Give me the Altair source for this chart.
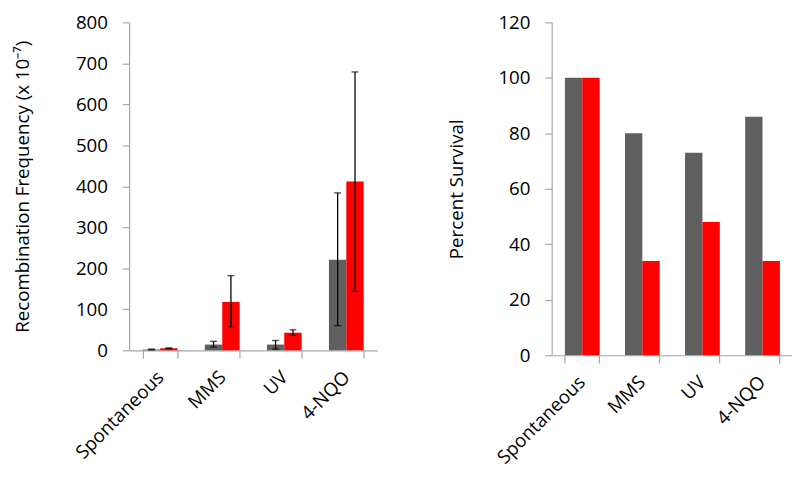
import altair as alt
import pandas as pd

categories = ["Spontaneous", "MMS", "UV", "4-NQO"]
series_names = ["Series 1", "Series 2"]

recomb_s1 = [2, 14, 14, 221]
recomb_s1_lo = [1, 8, 3, 60]
recomb_s1_hi = [3, 22, 24, 384]
recomb_s2 = [5, 118, 43, 412]
recomb_s2_lo = [4, 57, 37, 144]
recomb_s2_hi = [6, 182, 50, 679]

survival_s1 = [100, 80, 73, 86]
survival_s2 = [100, 34, 48, 34]

recomb_ticks = [0, 100, 200, 300, 400, 500, 600, 700, 800]
survival_ticks = [0, 20, 40, 60, 80, 100, 120]

rows = []
for i, c in enumerate(categories):
    rows.append({"cat": c, "series": series_names[0], "value": recomb_s1[i],
                 "lo": recomb_s1_lo[i], "hi": recomb_s1_hi[i]})
    rows.append({"cat": c, "series": series_names[1], "value": recomb_s2[i],
                 "lo": recomb_s2_lo[i], "hi": recomb_s2_hi[i]})
recomb_df = pd.DataFrame(rows)

rows2 = []
for i, c in enumerate(categories):
    rows2.append({"cat": c, "series": series_names[0], "value": survival_s1[i]})
    rows2.append({"cat": c, "series": series_names[1], "value": survival_s2[i]})
surv_df = pd.DataFrame(rows2)

FONT = "Open Sans"
AXIS_GRAY = "#a6a6a6"

def xenc():
    return alt.X("cat:N", sort=categories, title=None,
                 scale=alt.Scale(paddingInner=0.44, paddingOuter=0.22),
                 axis=alt.Axis(tickBand="extent", labelAngle=-45, labelAlign="right",
                               labelBaseline="middle", tickSize=8, labelPadding=16))

xoff = alt.XOffset("series:N", sort=series_names, scale=alt.Scale(paddingInner=0, paddingOuter=0))
color = alt.Color("series:N", sort=series_names,
                  scale=alt.Scale(domain=series_names, range=["#606060", "#ff0000"]),
                  legend=None)

# Left chart
ly = alt.Y("value:Q", title="Recombination Frequency (x 10\u207b\u2077)",
           scale=alt.Scale(domain=[0, 800], nice=False),
           axis=alt.Axis(values=recomb_ticks, titlePadding=44))
left_base = alt.Chart(recomb_df)
left_bars = left_base.mark_bar().encode(x=xenc(), xOffset=xoff, y=ly, color=color)
left_rules = left_base.mark_rule(color="black", strokeWidth=1.3).encode(
    x=xenc(), xOffset=xoff, y=alt.Y("lo:Q"), y2="hi:Q")
left_caps_hi = left_base.mark_tick(color="black", thickness=1.3, size=7, orient="horizontal").encode(
    x=xenc(), xOffset=xoff, y=alt.Y("hi:Q"))
left_caps_lo = left_base.mark_tick(color="black", thickness=1.3, size=7, orient="horizontal").encode(
    x=xenc(), xOffset=xoff, y=alt.Y("lo:Q"))
left = alt.layer(left_bars, left_rules, left_caps_hi, left_caps_lo).properties(width=252, height=333)

# Right chart
ry = alt.Y("value:Q", title="Percent Survival",
           scale=alt.Scale(domain=[0, 120], nice=False),
           axis=alt.Axis(values=survival_ticks, titlePadding=32))
right = alt.Chart(surv_df).mark_bar().encode(
    x=xenc(), xOffset=xoff, y=ry, color=color).properties(width=244, height=338)

chart = alt.hconcat(left, right, spacing=71).properties(
    padding={"left": 5, "top": 2, "right": 0, "bottom": 0}
).configure_view(
    stroke=None
).configure_axis(
    labelFont=FONT, titleFont=FONT, labelFontSize=19, titleFontSize=19,
    labelColor="#000000", titleColor="#000000", titleFontWeight="normal",
    domainColor=AXIS_GRAY, tickColor=AXIS_GRAY, grid=False, domainWidth=1.2, tickWidth=1.2
).configure_axisY(
    tickSize=7, labelPadding=15
)

chart.save("out.html", embed_options={"renderer": "svg", "actions": False})
